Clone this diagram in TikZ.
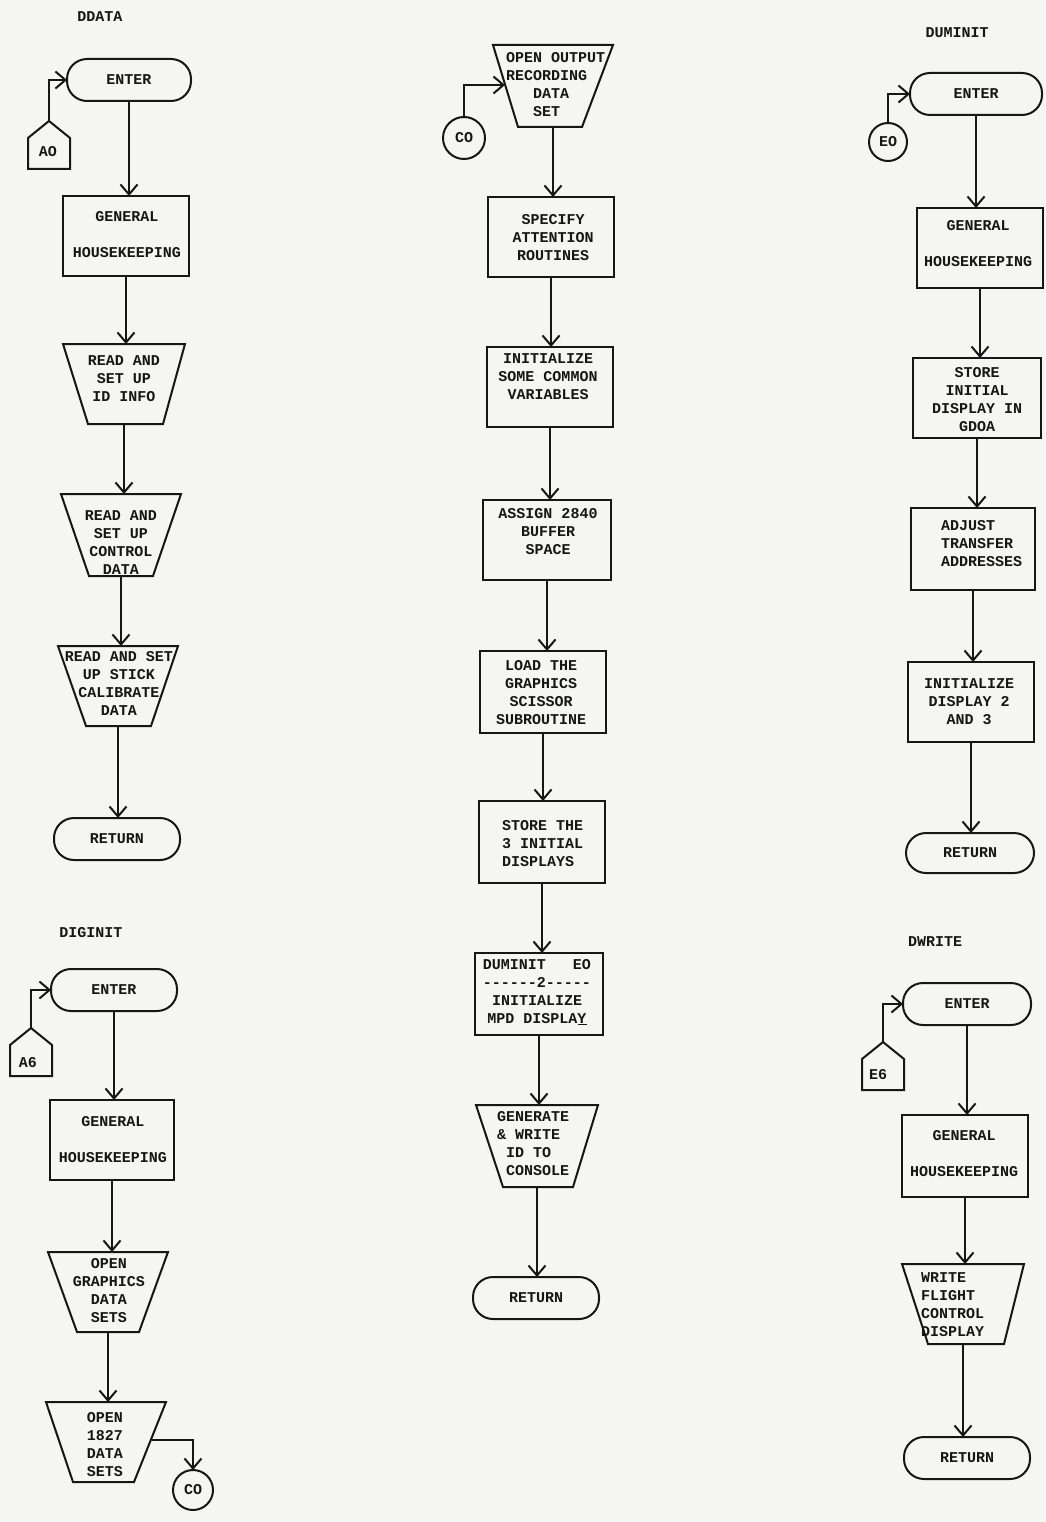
\documentclass[tikz,border=0pt]{standalone}
\usepackage{fontspec}
\setmonofont{Liberation Mono}
\usetikzlibrary{arrows.meta}
\definecolor{paper}{RGB}{245,245,242}
\definecolor{ink}{RGB}{22,22,22}

% outline of an off-page connector (house shape) around a node
\newcommand\housefig[1]{\draw[line] (#1.south west) -- ([yshift=-17pt]#1.north west) -- (#1.north)
  -- ([yshift=-17pt]#1.north east) -- (#1.south east) -- cycle;}
% outline of a manual-operation trapezoid: wide top, insets at the bottom
\newcommand\trapfig[3]{\draw[line] (#1.north west) -- (#1.north east)
  -- ([xshift=-#3pt]#1.south east) -- ([xshift=#2pt]#1.south west) -- cycle;}
% vertical flow line from the bottom of one node to the top of the next
\newcommand\flow[2]{\draw[arr] (#1.south) -- (#1.south |- #2.north);}

\begin{document}
\begin{tikzpicture}[x=1pt,y=-1pt,
  every node/.style={font=\ttfamily\bfseries\fontsize{15}{18}\selectfont, text=ink,
    inner sep=0pt, outer sep=0pt},
  line/.style={line width=2pt, draw=ink},
  arr/.style={line, -{Straight Barb[length=10pt,width=17pt,line width=2pt]}},
  wh/.style 2 args={minimum width=#1pt, minimum height=#2pt},
  proc/.style={rectangle, line},
  term/.style={rectangle, line, rounded corners=20pt},
  frame/.style={rectangle},
  conn/.style={circle, line, minimum size=#1pt},
  txt/.style={align=center},
  ltxt/.style={align=left, anchor=west}]

\fill[paper] (0,0) rectangle (1045,1522);

% ---------------- DDATA ----------------
\node (ttlA) at (100,17) {DDATA};
\node[term, wh={124}{42}] (enterA) at (129,80) {ENTER};
\node[frame, wh={42}{48}] (houseA) at (49,145) {};
\housefig{houseA}
\node (tA0) at (48,152) {AO};
\node[proc, wh={126}{80}] (boxA1) at (126,236) {};
\node[txt] (tA1) at (127,234.5) {GENERAL\\[18pt]HOUSEKEEPING};
\node[frame, wh={122}{80}] (trapA2) at (124,384) {};
\trapfig{trapA2}{25}{22}
\node[txt] (tA2) at (124,379) {READ AND\\SET UP\\ID INFO};
\node[frame, wh={120}{82}] (trapA3) at (121,535) {};
\trapfig{trapA3}{28}{28}
\node[txt] (tA3) at (121,543) {READ AND\\SET UP\\CONTROL\\DATA};
\node[frame, wh={120}{80}] (trapA4) at (118,686) {};
\trapfig{trapA4}{28}{27}
\node[txt] (tA4) at (119,683.5) {READ AND SET\\UP STICK\\CALIBRATE\\DATA};
\node[term, wh={126}{42}] (retA) at (117,839) {RETURN};

\draw[arr] (houseA.north) |- (enterA.west);
\flow{enterA}{boxA1}
\flow{boxA1}{trapA2}
\flow{trapA2}{trapA3}
\flow{trapA3}{trapA4}
\flow{trapA4}{retA}

% ---------------- DIGINIT ----------------
\node (ttlB) at (91,933) {DIGINIT};
\node[term, wh={126}{42}] (enterB) at (114,990) {ENTER};
\node[frame, wh={42}{48}] (houseB) at (31,1052) {};
\housefig{houseB}
\node (tB0) at (28,1063) {A6};
\node[proc, wh={124}{80}] (boxB1) at (112,1140) {};
\node[txt] (tB1) at (113,1140) {GENERAL\\[18pt]HOUSEKEEPING};
\node[frame, wh={120}{80}] (trapB2) at (108,1292) {};
\trapfig{trapB2}{29}{29}
\node[txt] (tB2) at (109,1290.5) {OPEN\\GRAPHICS\\DATA\\SETS};
\node[frame, wh={120}{80}] (trapB3) at (106,1442) {};
\trapfig{trapB3}{27}{32}
\node[txt] (tB3) at (105,1445) {OPEN\\1827\\DATA\\SETS};
\node[conn=40] (cB) at (193,1490) {CO};
\coordinate (trapB3out) at (152,1440);

\draw[arr] (houseB.north) |- (enterB.west);
\flow{enterB}{boxB1}
\flow{boxB1}{trapB2}
\flow{trapB2}{trapB3}
\draw[arr] (trapB3out) -| (cB.north);

% ---------------- main sequence ----------------
\node[frame, wh={120}{82}] (trapC1) at (553,86) {};
\trapfig{trapC1}{25}{31}
\node[ltxt] (tC1) at (506,84.5) {OPEN OUTPUT\\RECORDING\\~~~DATA\\~~~SET};
\node[conn=42] (cC) at (464,138) {CO};
\coordinate (trapC1in) at (505,85);
\node[proc, wh={126}{80}] (boxC2) at (551,237) {};
\node[txt] (tC2) at (553,237.5) {SPECIFY\\ATTENTION\\ROUTINES};
\node[proc, wh={126}{80}] (boxC3) at (550,387) {};
\node[txt] (tC3) at (548,377) {INITIALIZE\\SOME COMMON\\VARIABLES};
\node[proc, wh={128}{80}] (boxC4) at (547,540) {};
\node[txt] (tC4) at (548,531.5) {ASSIGN 2840\\BUFFER\\SPACE};
\node[proc, wh={126}{82}] (boxC5) at (543,692) {};
\node[txt] (tC5) at (541,692.5) {LOAD THE\\GRAPHICS\\SCISSOR\\SUBROUTINE};
\node[proc, wh={126}{82}] (boxC6) at (542,842) {};
\node[ltxt] (tC6) at (502,843.5) {STORE THE\\3 INITIAL\\DISPLAYS};
\node[proc, wh={128}{82}] (boxC7) at (539,994) {};
\node[txt] (tC7) at (537,992) {DUMINIT~~~EO\\------2-----\\INITIALIZE\\MPD DISPLA\underline{Y}};
\node[frame, wh={122}{82}] (trapC8) at (537,1146) {};
\trapfig{trapC8}{27}{25}
\node[ltxt] (tC8) at (497,1143.5) {GENERATE\\\& WRITE\\~ID TO\\~CONSOLE};
\node[term, wh={126}{42}] (retC) at (536,1298) {RETURN};

\draw[arr] (cC.north) |- (trapC1in);
\flow{trapC1}{boxC2}
\flow{boxC2}{boxC3}
\flow{boxC3}{boxC4}
\flow{boxC4}{boxC5}
\flow{boxC5}{boxC6}
\flow{boxC6}{boxC7}
\flow{boxC7}{trapC8}
\flow{trapC8}{retC}

% ---------------- DUMINIT ----------------
\node (ttlD) at (957,33) {DUMINIT};
\node[term, wh={132}{42}] (enterD) at (976,94) {ENTER};
\node[conn=38] (cD) at (888,142) {EO};
\node[proc, wh={126}{80}] (boxD1) at (980,248) {};
\node[txt] (tD1) at (978,243.5) {GENERAL\\[18pt]HOUSEKEEPING};
\node[proc, wh={128}{80}] (boxD2) at (977,398) {};
\node[txt] (tD2) at (977,400) {STORE\\INITIAL\\DISPLAY IN\\GDOA};
\node[proc, wh={124}{82}] (boxD3) at (973,549) {};
\node[ltxt] (tD3) at (941,544) {ADJUST\\TRANSFER\\ADDRESSES};
\node[proc, wh={126}{80}] (boxD4) at (971,702) {};
\node[txt] (tD4) at (969,701.5) {INITIALIZE\\DISPLAY 2\\AND 3};
\node[term, wh={128}{40}] (retD) at (970,853) {RETURN};

\draw[arr] (cD.north) |- (enterD.west);
\flow{enterD}{boxD1}
\flow{boxD1}{boxD2}
\flow{boxD2}{boxD3}
\flow{boxD3}{boxD4}
\flow{boxD4}{retD}

% ---------------- DWRITE ----------------
\node (ttlE) at (935,942) {DWRITE};
\node[term, wh={128}{42}] (enterE) at (967,1004) {ENTER};
\node[frame, wh={42}{48}] (houseE) at (883,1066) {};
\housefig{houseE}
\node (tE0) at (878,1075) {E6};
\node[proc, wh={126}{82}] (boxE1) at (965,1156) {};
\node[txt] (tE1) at (964,1153.5) {GENERAL\\[18pt]HOUSEKEEPING};
\node[frame, wh={122}{80}] (trapE2) at (963,1304) {};
\trapfig{trapE2}{26}{20}
\node[ltxt] (tE2) at (921,1305) {WRITE\\FLIGHT\\CONTROL\\DISPLAY};
\node[term, wh={126}{42}] (retE) at (967,1458) {RETURN};

\draw[arr] (houseE.north) |- (enterE.west);
\flow{enterE}{boxE1}
\flow{boxE1}{trapE2}
\flow{trapE2}{retE}

\end{tikzpicture}
\end{document}
